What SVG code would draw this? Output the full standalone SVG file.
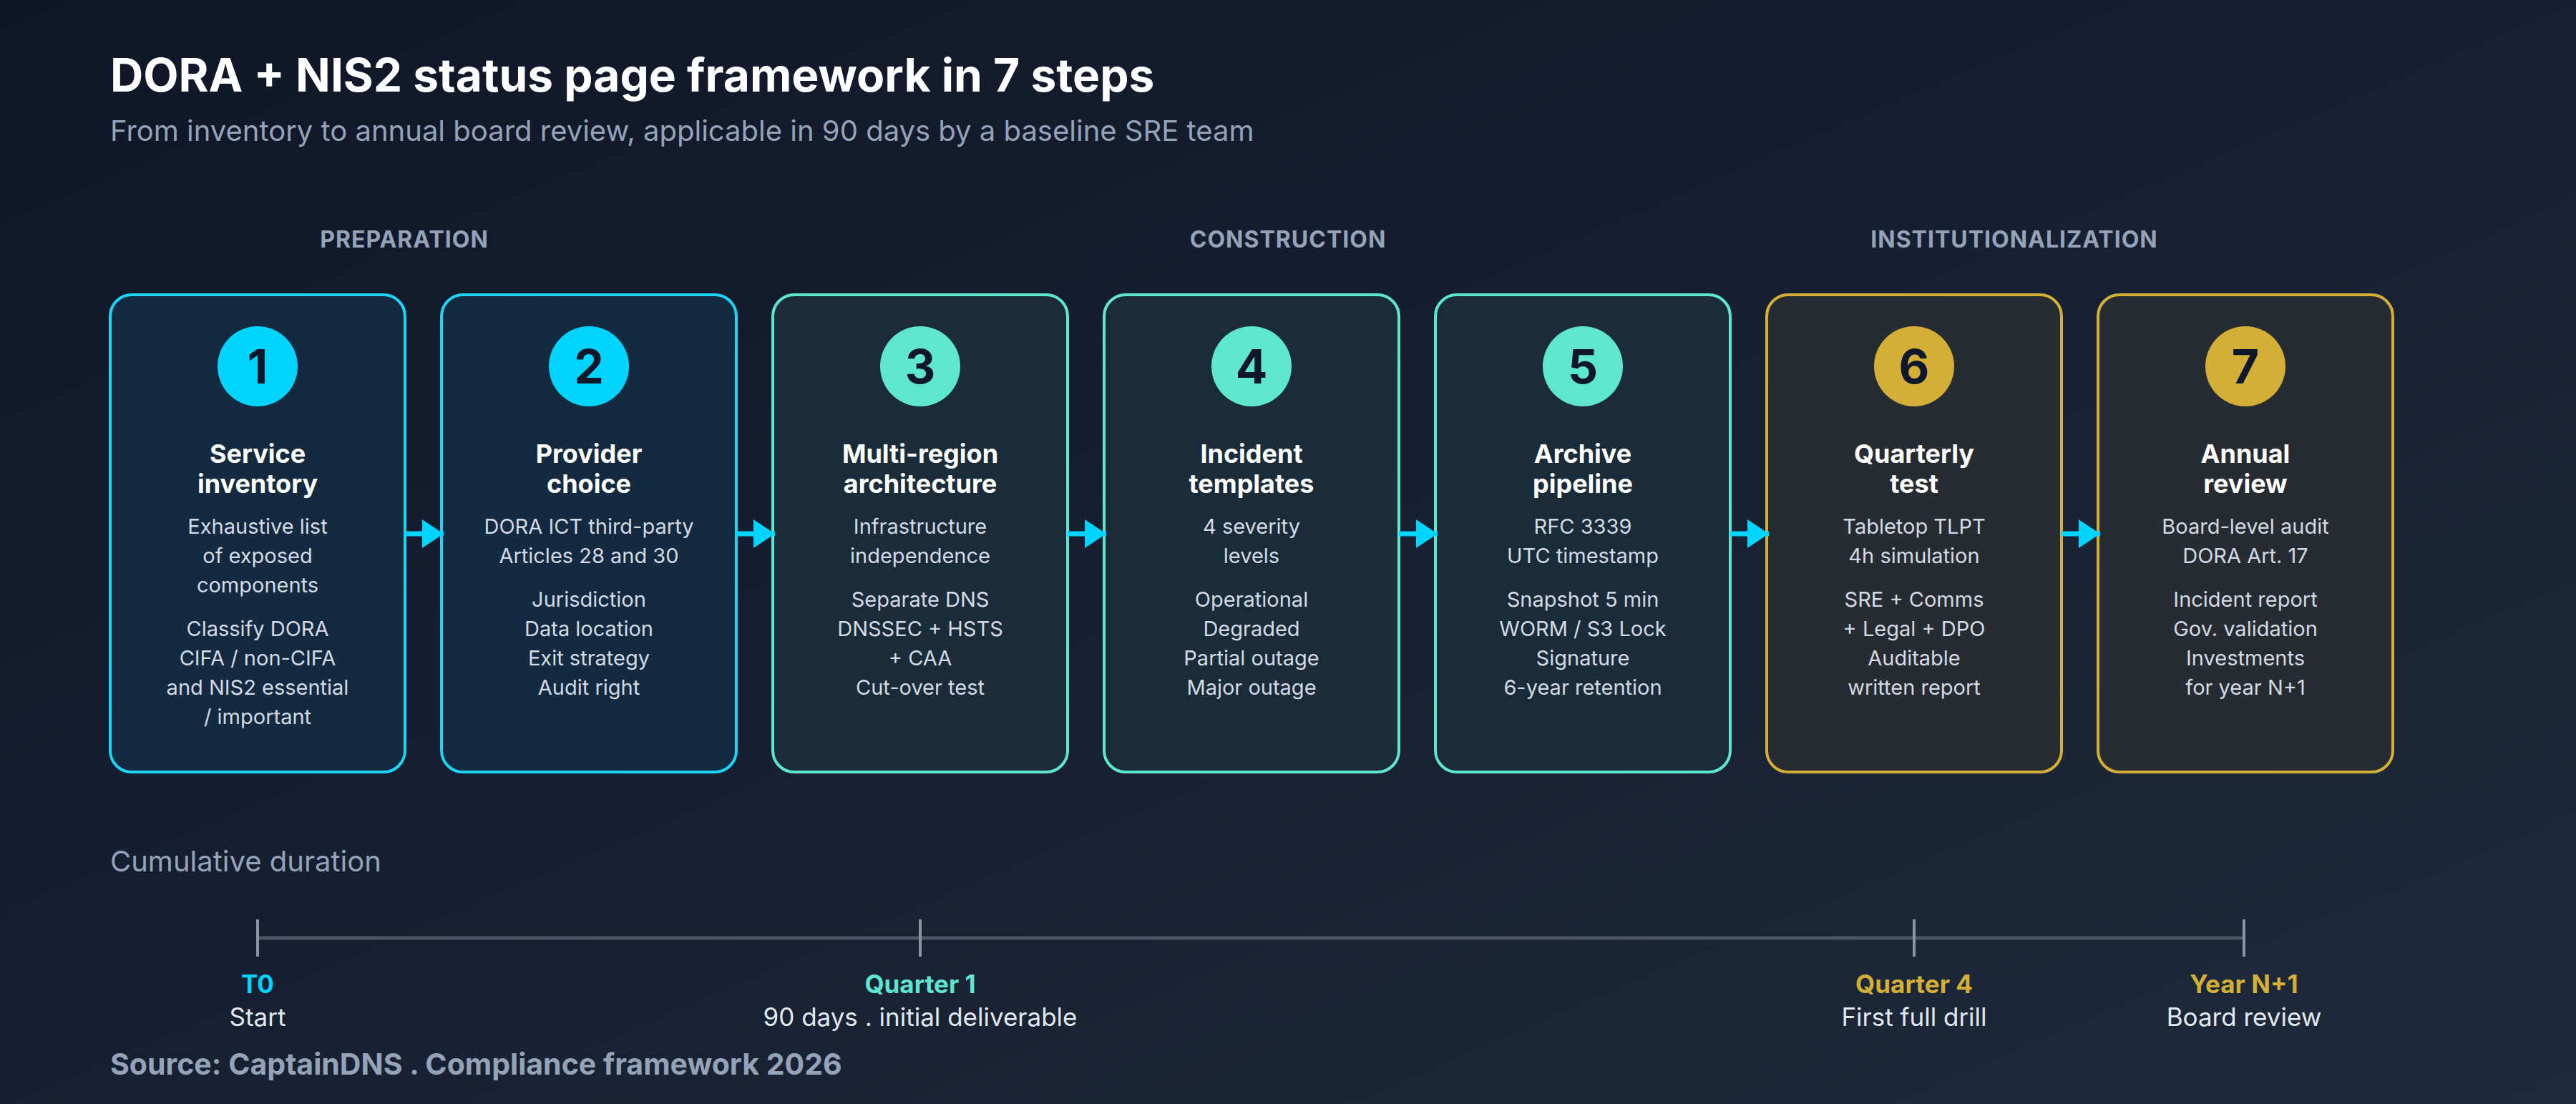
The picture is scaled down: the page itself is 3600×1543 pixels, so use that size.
<svg xmlns="http://www.w3.org/2000/svg" width="3600" height="1543" viewBox="0 0 3600 1543">
<defs>
<linearGradient id="bg" x1="0" y1="0" x2="1" y2="1"><stop offset="0" stop-color="#0f1628"/><stop offset="1" stop-color="#1e2a3b"/></linearGradient>
<marker id="ah" markerWidth="30" markerHeight="40" refX="30" refY="20" orient="auto" markerUnits="userSpaceOnUse" viewBox="0 0 30 40"><path d="M0,0 L30,20 L0,40 z" fill="#00d4ff"/></marker>
<style>
text{font-family:Inter,"Liberation Sans",sans-serif;text-anchor:middle}
.c{fill:#132a40;stroke:#1ed4f5;stroke-width:4}
.t{fill:#1a2c3a;stroke:#5ee6d0;stroke-width:4}
.g{fill:#272b32;stroke:#d4af37;stroke-width:4}
.cc{fill:#00d4ff}.tc{fill:#5ee6d0}.gc{fill:#d4af37}
.num{font-size:66px;font-weight:700;fill:#0f172a}
.ttl{font-size:36px;font-weight:700;fill:#ffffff}
.bd{font-size:29px;fill:#d4dae3}
.sec{font-size:32px;font-weight:700;fill:#94a3b8;letter-spacing:1px}
.arr{stroke:#00d4ff;stroke-width:7;fill:none}
.tick{stroke:#8a95a5;stroke-width:4}
.tl1{font-size:35px;font-weight:700}
.tl2{font-size:35px;fill:#e2e8f0}
</style>
</defs>
<rect width="3600" height="1543" fill="url(#bg)"/>
<text x="154" y="128" style="text-anchor:start;font-size:64px;font-weight:700;fill:#fff">DORA + NIS2 status page framework in 7 steps</text>
<text x="154" y="197" style="text-anchor:start;font-size:40px;fill:#94a3b8">From inventory to annual board review, applicable in 90 days by a baseline SRE team</text>
<text class="sec" x="565" y="346">PREPARATION</text>
<text class="sec" x="1800" y="346">CONSTRUCTION</text>
<text class="sec" x="2815" y="346">INSTITUTIONALIZATION</text>

<g id="n1"><rect class="c" x="154" y="412" width="412" height="667" rx="30"/><circle class="cc" cx="360" cy="512" r="56"/><text class="num" x="360" y="536">1</text>
<text class="ttl" x="360" y="647">Service</text><text class="ttl" x="360" y="689">inventory</text>
<text class="bd" x="360" y="746">Exhaustive list</text><text class="bd" x="360" y="787">of exposed</text><text class="bd" x="360" y="828">components</text>
<text class="bd" x="360" y="889">Classify DORA</text><text class="bd" x="360" y="930">CIFA / non-CIFA</text><text class="bd" x="360" y="971">and NIS2 essential</text><text class="bd" x="360" y="1012">/ important</text></g>

<g id="n2"><rect class="c" x="617" y="412" width="412" height="667" rx="30"/><circle class="cc" cx="823" cy="512" r="56"/><text class="num" x="823" y="536">2</text>
<text class="ttl" x="823" y="647">Provider</text><text class="ttl" x="823" y="689">choice</text>
<text class="bd" x="823" y="746">DORA ICT third-party</text><text class="bd" x="823" y="787">Articles 28 and 30</text>
<text class="bd" x="823" y="848">Jurisdiction</text><text class="bd" x="823" y="889">Data location</text><text class="bd" x="823" y="930">Exit strategy</text><text class="bd" x="823" y="971">Audit right</text></g>

<g id="n3"><rect class="t" x="1080" y="412" width="412" height="667" rx="30"/><circle class="tc" cx="1286" cy="512" r="56"/><text class="num" x="1286" y="536">3</text>
<text class="ttl" x="1286" y="647">Multi-region</text><text class="ttl" x="1286" y="689">architecture</text>
<text class="bd" x="1286" y="746">Infrastructure</text><text class="bd" x="1286" y="787">independence</text>
<text class="bd" x="1286" y="848">Separate DNS</text><text class="bd" x="1286" y="889">DNSSEC + HSTS</text><text class="bd" x="1286" y="930">+ CAA</text><text class="bd" x="1286" y="971">Cut-over test</text></g>

<g id="n4"><rect class="t" x="1543" y="412" width="412" height="667" rx="30"/><circle class="tc" cx="1749" cy="512" r="56"/><text class="num" x="1749" y="536">4</text>
<text class="ttl" x="1749" y="647">Incident</text><text class="ttl" x="1749" y="689">templates</text>
<text class="bd" x="1749" y="746">4 severity</text><text class="bd" x="1749" y="787">levels</text>
<text class="bd" x="1749" y="848">Operational</text><text class="bd" x="1749" y="889">Degraded</text><text class="bd" x="1749" y="930">Partial outage</text><text class="bd" x="1749" y="971">Major outage</text></g>

<g id="n5"><rect class="t" x="2006" y="412" width="412" height="667" rx="30"/><circle class="tc" cx="2212" cy="512" r="56"/><text class="num" x="2212" y="536">5</text>
<text class="ttl" x="2212" y="647">Archive</text><text class="ttl" x="2212" y="689">pipeline</text>
<text class="bd" x="2212" y="746">RFC 3339</text><text class="bd" x="2212" y="787">UTC timestamp</text>
<text class="bd" x="2212" y="848">Snapshot 5 min</text><text class="bd" x="2212" y="889">WORM / S3 Lock</text><text class="bd" x="2212" y="930">Signature</text><text class="bd" x="2212" y="971">6-year retention</text></g>

<g id="n6"><rect class="g" x="2469" y="412" width="412" height="667" rx="30"/><circle class="gc" cx="2675" cy="512" r="56"/><text class="num" x="2675" y="536">6</text>
<text class="ttl" x="2675" y="647">Quarterly</text><text class="ttl" x="2675" y="689">test</text>
<text class="bd" x="2675" y="746">Tabletop TLPT</text><text class="bd" x="2675" y="787">4h simulation</text>
<text class="bd" x="2675" y="848">SRE + Comms</text><text class="bd" x="2675" y="889">+ Legal + DPO</text><text class="bd" x="2675" y="930">Auditable</text><text class="bd" x="2675" y="971">written report</text></g>

<g id="n7"><rect class="g" x="2932" y="412" width="412" height="667" rx="30"/><circle class="gc" cx="3138" cy="512" r="56"/><text class="num" x="3138" y="536">7</text>
<text class="ttl" x="3138" y="647">Annual</text><text class="ttl" x="3138" y="689">review</text>
<text class="bd" x="3138" y="746">Board-level audit</text><text class="bd" x="3138" y="787">DORA Art. 17</text>
<text class="bd" x="3138" y="848">Incident report</text><text class="bd" x="3138" y="889">Gov. validation</text><text class="bd" x="3138" y="930">Investments</text><text class="bd" x="3138" y="971">for year N+1</text></g>

<g id="connectors">
<path class="arr" marker-end="url(#ah)" d="M566,746 H620"/>
<path class="arr" marker-end="url(#ah)" d="M1029,746 H1083"/>
<path class="arr" marker-end="url(#ah)" d="M1492,746 H1546"/>
<path class="arr" marker-end="url(#ah)" d="M1955,746 H2009"/>
<path class="arr" marker-end="url(#ah)" d="M2418,746 H2472"/>
<path class="arr" marker-end="url(#ah)" d="M2881,746 H2935"/>
</g>

<g id="timeline">
<text x="154" y="1218" style="text-anchor:start;font-size:40px;fill:#94a3b8">Cumulative duration</text>
<line x1="360" y1="1311" x2="3136" y2="1311" stroke="#4b5565" stroke-width="5"/>
<line class="tick" x1="360" y1="1285" x2="360" y2="1337"/>
<line class="tick" x1="1286" y1="1285" x2="1286" y2="1337"/>
<line class="tick" x1="2675" y1="1285" x2="2675" y2="1337"/>
<line class="tick" x1="3136" y1="1285" x2="3136" y2="1337"/>
<text class="tl1" x="360" y="1388" fill="#00d4ff">T0</text><text class="tl2" x="360" y="1434">Start</text>
<text class="tl1" x="1286" y="1388" fill="#5ee6d0">Quarter 1</text><text class="tl2" x="1286" y="1434">90 days . initial deliverable</text>
<text class="tl1" x="2675" y="1388" fill="#d4af37">Quarter 4</text><text class="tl2" x="2675" y="1434">First full drill</text>
<text class="tl1" x="3136" y="1388" fill="#d4af37">Year N+1</text><text class="tl2" x="3136" y="1434">Board review</text>
</g>
<text x="154" y="1502" style="text-anchor:start;font-size:41px;font-weight:700;fill:#94a3b8">Source: CaptainDNS . Compliance framework 2026</text>
</svg>
